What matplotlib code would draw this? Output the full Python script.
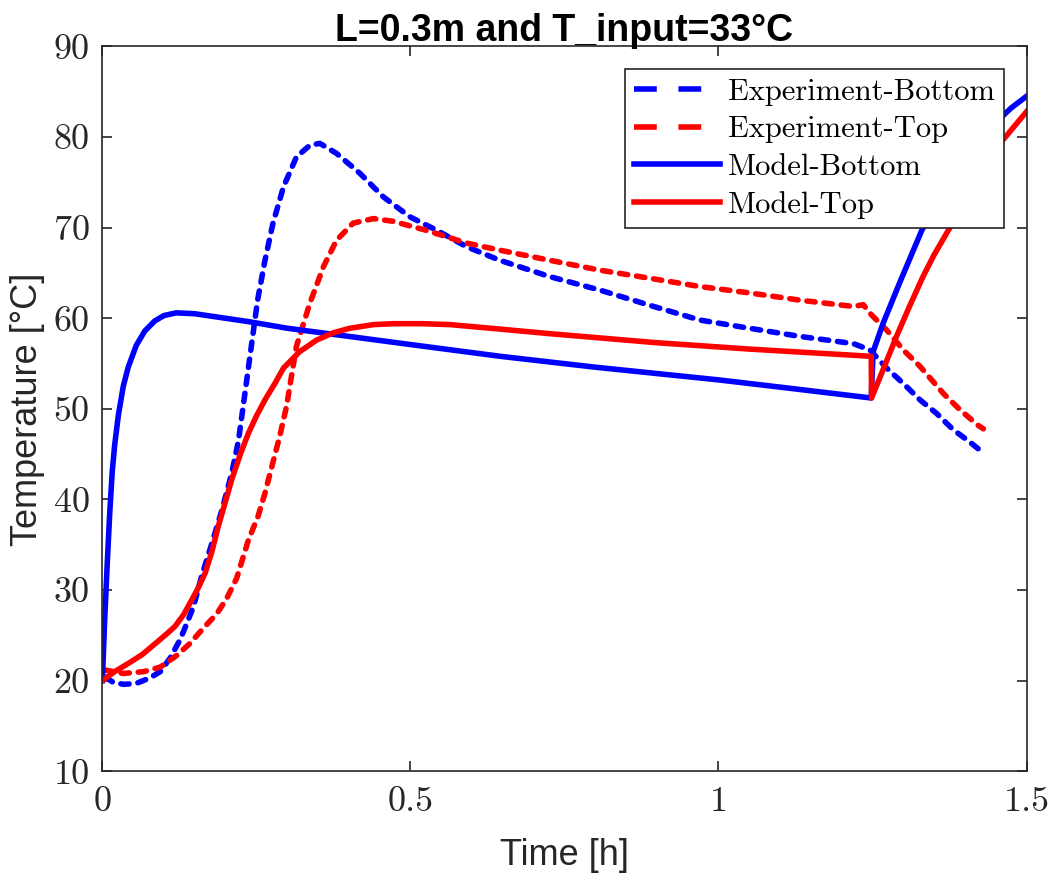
import numpy as np
import matplotlib
matplotlib.use('Agg')
import matplotlib.pyplot as plt

# Experiment-Bottom (blue dashed)
exp_bottom_t = [0.005, 0.018, 0.035, 0.055, 0.077, 0.094, 0.110, 0.126, 0.137, 0.148, 0.161,
                0.178, 0.194, 0.210, 0.221, 0.229, 0.237, 0.245, 0.252, 0.264, 0.277, 0.294,
                0.315, 0.337, 0.353, 0.380, 0.418, 0.456, 0.499, 0.543, 0.591, 0.645, 0.726,
                0.808, 0.890, 0.970, 1.050, 1.132, 1.219, 1.246, 1.273, 1.300, 1.327, 1.354,
                1.381, 1.405, 1.427]
exp_bottom_T = [20.4, 19.8, 19.6, 19.7, 20.3, 21.0, 22.5, 24.5, 26.3, 28.2, 31.5,
                35.2, 38.8, 42.9, 46.5, 50.5, 54.5, 58.5, 62.0, 66.4, 70.5, 74.5,
                77.8, 79.1, 79.3, 78.2, 76.0, 73.4, 71.2, 69.7, 67.9, 66.4, 64.6,
                63.1, 61.4, 59.8, 58.9, 58.0, 57.2, 56.5, 54.5, 52.8, 51.0, 49.5,
                47.7, 46.5, 45.3]

# Experiment-Top (red dashed)
exp_top_t = [0.003, 0.034, 0.067, 0.094, 0.121, 0.142, 0.164, 0.186, 0.202, 0.218, 0.237,
             0.253, 0.264, 0.275, 0.288, 0.299, 0.315, 0.337, 0.359, 0.380, 0.407, 0.440,
             0.472, 0.526, 0.591, 0.646, 0.726, 0.808, 0.890, 0.970, 1.050, 1.132, 1.219,
             1.235, 1.248, 1.273, 1.300, 1.327, 1.365, 1.392, 1.421, 1.430]
exp_top_T = [21.2, 20.8, 21.0, 21.5, 22.8, 24.1, 25.8, 27.4, 29.1, 31.3, 35.5,
             38.2, 40.7, 43.6, 47.0, 50.3, 56.9, 61.7, 65.7, 68.6, 70.5, 71.0,
             70.7, 69.7, 68.3, 67.5, 66.4, 65.3, 64.4, 63.5, 62.8, 62.0, 61.3,
             61.5, 60.4, 58.7, 56.5, 54.7, 51.7, 49.9, 48.2, 47.8]

# Model-Bottom (blue solid)
mod_bottom_t = [0.0, 0.004, 0.008, 0.012, 0.016, 0.020, 0.026, 0.034, 0.042, 0.055, 0.069,
                0.085, 0.100, 0.120, 0.150, 0.200, 0.240, 0.300, 0.400, 0.500, 0.646, 0.800,
                1.000, 1.100, 1.248, 1.251, 1.267, 1.294, 1.330, 1.360, 1.390, 1.420, 1.450,
                1.475, 1.500]
mod_bottom_T = [20.0, 27.0, 33.0, 38.5, 43.0, 46.0, 49.3, 52.5, 54.6, 57.0, 58.6,
                59.7, 60.3, 60.6, 60.5, 60.0, 59.6, 58.9, 58.0, 57.1, 55.8, 54.6,
                53.2, 52.4, 51.2, 56.3, 59.4, 63.9, 69.7, 73.4, 76.6, 79.3, 81.6,
                83.2, 84.5]

# Model-Top (red solid)
mod_top_t = [0.0, 0.020, 0.042, 0.065, 0.086, 0.105, 0.118, 0.132, 0.145, 0.156, 0.167,
             0.178, 0.188, 0.200, 0.210, 0.224, 0.237, 0.250, 0.264, 0.280, 0.294, 0.320,
             0.348, 0.375, 0.402, 0.440, 0.472, 0.520, 0.564, 0.646, 0.726, 0.900, 1.050,
             1.248, 1.2485, 1.270, 1.289, 1.310, 1.332, 1.350, 1.373, 1.400, 1.430, 1.462,
             1.500]
mod_top_T = [20.0, 21.0, 21.9, 22.9, 24.1, 25.2, 26.0, 27.3, 28.9, 30.3, 31.9,
             34.3, 37.0, 39.8, 42.2, 45.0, 47.3, 49.2, 51.0, 52.8, 54.5, 56.3,
             57.6, 58.4, 58.9, 59.3, 59.4, 59.4, 59.3, 58.8, 58.3, 57.3, 56.6,
             55.8, 51.2, 54.8, 58.0, 61.3, 64.6, 67.0, 69.7, 72.7, 76.2, 79.7,
             82.8]

x_ticks = [0, 0.5, 1, 1.5]
x_tick_labels = ['0', '0.5', '1', '1.5']
y_ticks = [10, 20, 30, 40, 50, 60, 70, 80, 90]

AX_COLOR = '#262626'
LW = 4.0
SANS = ['Liberation Sans Narrow', 'Liberation Sans']

fig = plt.figure(figsize=(10.55, 8.76), dpi=100)
ax = fig.add_axes([0.097, 0.1195, 0.876, 0.8275])

dash_kw = dict(linestyle=(0, (1.5, 1.6)), dash_capstyle='round', linewidth=LW)
ax.plot(exp_bottom_t, exp_bottom_T, color='b', label='Experiment-Bottom', **dash_kw)
ax.plot(exp_top_t, exp_top_T, color='r', label='Experiment-Top', **dash_kw)
ax.plot(mod_bottom_t, mod_bottom_T, color='b', linewidth=LW, label='Model-Bottom')
ax.plot(mod_top_t, mod_top_T, color='r', linewidth=LW, label='Model-Top')

ax.set_xlim(0, 1.5)
ax.set_ylim(10, 90)
ax.set_xticks(x_ticks, labels=x_tick_labels)
ax.set_yticks(y_ticks, labels=[str(v) for v in y_ticks])
for lab in ax.get_xticklabels() + ax.get_yticklabels():
    lab.set_fontfamily('cmr10')
    lab.set_fontsize(26)
    lab.set_color(AX_COLOR)
ax.tick_params(direction='in', length=7, width=1.2, color=AX_COLOR,
               top=True, right=True)
ax.tick_params(axis='y', pad=9)
ax.tick_params(axis='x', pad=11)
for s in ax.spines.values():
    s.set_color(AX_COLOR)
    s.set_linewidth(1.2)

ax.set_xlabel('Time [h]', fontsize=26, family=SANS, color=AX_COLOR, labelpad=14)
ax.set_ylabel('Temperature [°C]', fontsize=26, family=SANS, color=AX_COLOR, labelpad=6)
ax.set_title('L=0.3m and T_input=33°C', fontsize=27, fontweight='bold', family=SANS, pad=4)

leg = ax.legend(loc='upper right', prop={'family': 'cmr10', 'size': 22},
                fancybox=False, framealpha=1, edgecolor=AX_COLOR,
                handlelength=2.8, handletextpad=0.25, labelspacing=0.33,
                borderpad=0.3, borderaxespad=0.75)
leg.get_frame().set_linewidth(1.2)
for hl in leg.get_lines()[:2]:
    hl.set_linestyle((0, (4.1, 3.9)))
    hl.set_dash_capstyle('butt')

fig.savefig('out.png', dpi=100)
